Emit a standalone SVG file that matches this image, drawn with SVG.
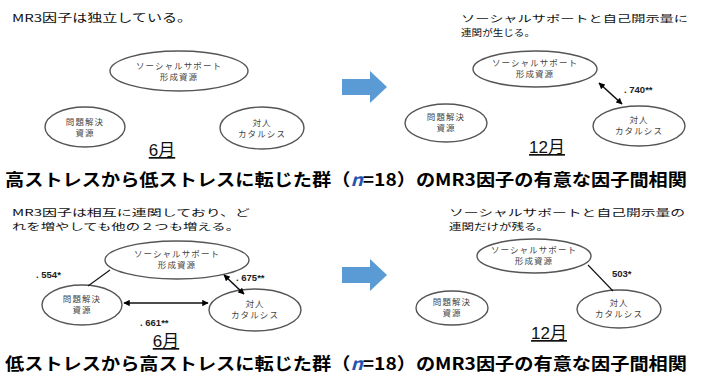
<svg xmlns="http://www.w3.org/2000/svg" width="715" height="374" viewBox="0 0 715 374">
<defs>
<marker id="ah" viewBox="0 0 10 10" refX="9" refY="5" markerWidth="4" markerHeight="4" orient="auto-start-reverse"><path d="M0,0 L10,5 L0,10 z" fill="#000"/></marker>
<style>
.node{fill:#fff;stroke:#555;stroke-width:1.4}
.nl{font-family:"Noto Sans CJK JP","Liberation Sans",sans-serif;font-size:8.5px;letter-spacing:1.1px;fill:#444;text-anchor:middle}
.cap{font-family:"Noto Sans CJK JP","Liberation Sans",sans-serif;font-size:11px;fill:#111}
.cap2{font-family:"Noto Sans CJK JP","Liberation Sans",sans-serif;font-size:9.5px;fill:#111}
.num{font-family:"Liberation Sans","Noto Sans CJK JP",sans-serif;font-size:9.5px;font-weight:bold;fill:#222}
.mon{font-family:"Liberation Sans","Noto Sans CJK JP",sans-serif;font-size:17px;fill:#111;text-anchor:middle;text-decoration:underline}
.head{font-family:"Noto Sans CJK JP","Liberation Sans",sans-serif;font-size:17px;font-weight:bold;fill:#000}
.con{stroke:#111;stroke-width:1.6;fill:none}
.big{fill:#5B9BD5}
</style>
</defs>
<rect width="715" height="374" fill="#fff"/>

<!-- top panel texts -->
<text class="cap" x="12" y="22" textLength="180" lengthAdjust="spacingAndGlyphs">MR3因子は独立している。</text>
<text class="cap2" x="461" y="22" textLength="227" lengthAdjust="spacingAndGlyphs">ソーシャルサポートと自己開示量に</text>
<text class="cap2" x="461" y="36" textLength="74" lengthAdjust="spacingAndGlyphs">連関が生じる。</text>

<g id="t6-ss"><ellipse class="node" cx="179" cy="71" rx="69" ry="20"/><text class="nl" x="179" y="69">ソーシャルサポート</text><text class="nl" x="179" y="80">形成資源</text></g>
<g id="t6-ps"><ellipse class="node" cx="85" cy="127" rx="40" ry="20"/><text class="nl" x="85" y="125">問題解決</text><text class="nl" x="85" y="136">資源</text></g>
<g id="t6-ic"><ellipse class="node" cx="262" cy="128" rx="42" ry="21"/><text class="nl" x="262" y="126">対人</text><text class="nl" x="262" y="137">カタルシス</text></g>
<text class="mon" x="162" y="156">6月</text>

<g id="t12-ss"><ellipse class="node" cx="535" cy="69" rx="62" ry="18"/><text class="nl" x="535" y="66">ソーシャルサポート</text><text class="nl" x="535" y="77">形成資源</text></g>
<g id="t12-ps"><ellipse class="node" cx="446" cy="123" rx="41" ry="19"/><text class="nl" x="446" y="120">問題解決</text><text class="nl" x="446" y="131">資源</text></g>
<g id="t12-ic"><ellipse class="node" cx="639" cy="126" rx="46" ry="20"/><text class="nl" x="639" y="123">対人</text><text class="nl" x="639" y="134">カタルシス</text></g>
<text class="mon" x="547" y="153">12月</text>

<!-- bottom panel texts -->
<text class="cap2" x="12" y="216" textLength="238" lengthAdjust="spacingAndGlyphs">MR3因子は相互に連関しており、ど</text>
<text class="cap2" x="12" y="230" textLength="228" lengthAdjust="spacingAndGlyphs">れを増やしても他の２つも増える。</text>
<text class="cap2" x="449" y="216" textLength="236" lengthAdjust="spacingAndGlyphs">ソーシャルサポートと自己開示量の</text>
<text class="cap2" x="449" y="230" textLength="100" lengthAdjust="spacingAndGlyphs">連関だけが残る。</text>

<g id="b6-ss"><ellipse class="node" cx="177" cy="260" rx="72" ry="19"/><text class="nl" x="177" y="257">ソーシャルサポート</text><text class="nl" x="177" y="268">形成資源</text></g>
<g id="b6-ps"><ellipse class="node" cx="82" cy="305" rx="40" ry="20"/><text class="nl" x="82" y="302">問題解決</text><text class="nl" x="82" y="313">資源</text></g>
<g id="b6-ic"><ellipse class="node" cx="255" cy="310" rx="46" ry="21"/><text class="nl" x="255" y="307">対人</text><text class="nl" x="255" y="318">カタルシス</text></g>
<text class="mon" x="166" y="347">6月</text>

<g id="b12-ss"><ellipse class="node" cx="534" cy="256" rx="57" ry="17"/><text class="nl" x="534" y="253">ソーシャルサポート</text><text class="nl" x="534" y="264">形成資源</text></g>
<g id="b12-ps"><ellipse class="node" cx="452" cy="308" rx="36" ry="17"/><text class="nl" x="452" y="305">問題解決</text><text class="nl" x="452" y="316">資源</text></g>
<g id="b12-ic"><ellipse class="node" cx="619" cy="309" rx="42" ry="19"/><text class="nl" x="619" y="306">対人</text><text class="nl" x="619" y="317">カタルシス</text></g>
<text class="mon" x="549" y="339">12月</text>

<!-- connectors -->
<g id="connectors">
<line class="con" x1="599" y1="83" x2="622" y2="104" marker-start="url(#ah)" marker-end="url(#ah)"/>
<line class="con" x1="110" y1="270" x2="88" y2="286" style="stroke-width:1.1"/>
<line class="con" x1="224" y1="275" x2="244" y2="294" marker-start="url(#ah)" marker-end="url(#ah)"/>
<line class="con" x1="124" y1="303" x2="208" y2="303" marker-start="url(#ah)" marker-end="url(#ah)"/>
<line class="con" x1="588" y1="265" x2="613" y2="291" style="stroke-width:1.1"/>
<path class="big" d="M342,79 H370 V71 L387,87 L370,103 V95 H342 Z"/>
<path class="big" d="M342,267 H370 V259 L387,275 L370,291 V283 H342 Z"/>
</g>

<text class="num" x="624" y="93">. 740**</text>
<text class="num" x="36" y="278">. 554*</text>
<text class="num" x="236" y="281">. 675**</text>
<text class="num" x="140" y="326">. 661**</text>
<text class="num" x="612" y="277">503*</text>

<!-- headings -->
<text class="head" x="5" y="186" textLength="682" lengthAdjust="spacingAndGlyphs">高ストレスから低ストレスに転じた群（<tspan fill="#2255B0" font-style="italic">n</tspan>=18）のMR3因子の有意な因子間相関</text>
<text class="head" x="5" y="370" textLength="682" lengthAdjust="spacingAndGlyphs">低ストレスから高ストレスに転じた群（<tspan fill="#2255B0" font-style="italic">n</tspan>=18）のMR3因子の有意な因子間相関</text>
</svg>
